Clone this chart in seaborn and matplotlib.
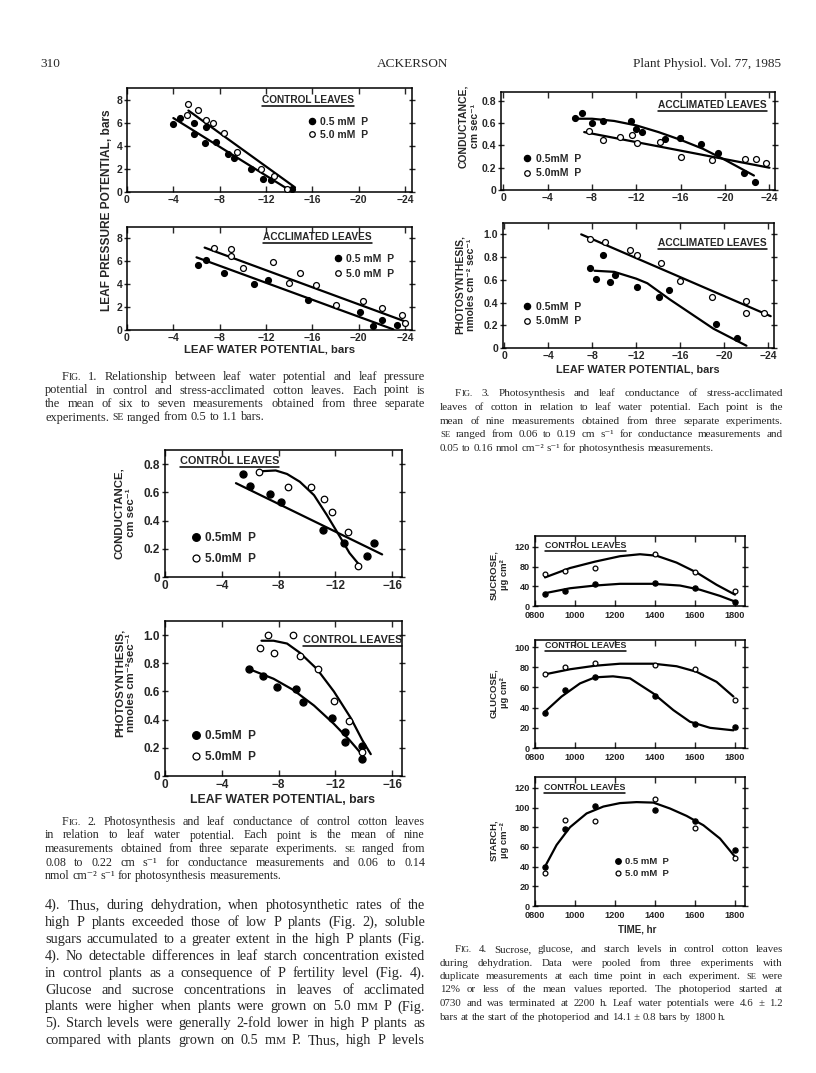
import matplotlib
matplotlib.use("Agg")
import matplotlib.pyplot as plt
from matplotlib.lines import Line2D
import pandas as pd
import seaborn as sns

W, H = 816, 1073
SANS = ["Liberation Sans", "DejaVu Sans"]
SERIF = ["Liberation Serif", "DejaVu Serif"]

# ---- Fig. 1: leaf pressure potential vs leaf water potential ----
f1c_lo_x = [-4.0, -4.6, -5.8, -5.8, -6.7, -6.8, -7.7, -8.7, -9.2, -10.7, -11.7, -12.4, -14.2]
f1c_lo_y = [5.9, 6.4, 6.0, 5.05, 4.2, 5.65, 4.35, 3.25, 2.9, 2.0, 1.15, 1.05, 0.3]
f1c_hi_x = [-5.3, -5.2, -6.1, -6.8, -7.4, -8.4, -9.5, -11.6, -12.7, -13.8]
f1c_hi_y = [7.65, 6.7, 7.1, 6.25, 6.0, 5.1, 3.5, 2.0, 1.4, 0.3]
f1c_lo_fit_x = [-4.0, -14.2]
f1c_lo_fit_y = [6.4, 0.05]
f1c_hi_fit_x = [-5.3, -14.5]
f1c_hi_fit_y = [7.05, 0.4]

f1a_lo_x = [-6.1, -6.8, -8.4, -11.0, -12.2, -15.6, -20.1, -21.2, -22.0, -23.3]
f1a_lo_y = [5.7, 6.1, 5.0, 4.0, 4.4, 2.6, 1.6, 0.35, 0.85, 0.4]
f1a_hi_x = [-7.5, -9.0, -9.0, -10.0, -12.6, -14.9, -14.0, -16.3, -18.0, -20.4, -22.0, -23.7, -24.0]
f1a_hi_y = [7.2, 7.05, 6.45, 5.4, 5.95, 4.95, 4.1, 3.9, 2.2, 2.55, 1.9, 1.3, 0.6]
f1a_lo_fit_x = [-6.0, -23.0]
f1a_lo_fit_y = [6.35, 0.05]
f1a_hi_fit_x = [-6.7, -24.0]
f1a_hi_fit_y = [7.2, 0.75]

# ---- Fig. 3: acclimated leaves ----
f3g_lo_x = [-6.5, -7.1, -8.0, -9.0, -11.5, -12.0, -12.5, -14.6, -15.9, -17.8, -19.4, -21.7, -22.7]
f3g_lo_y = [0.65, 0.69, 0.60, 0.62, 0.62, 0.55, 0.52, 0.46, 0.47, 0.41, 0.33, 0.15, 0.07]
f3g_hi_x = [-7.7, -9.0, -10.5, -11.6, -12.1, -14.1, -16.0, -18.8, -21.8, -22.8, -23.7]
f3g_hi_y = [0.53, 0.45, 0.48, 0.49, 0.42, 0.43, 0.30, 0.27, 0.28, 0.28, 0.24]
f3g_lo_fit_x = [-6.5, -8.0, -10.0, -12.0, -14.0, -16.0, -18.0, -20.0, -22.6]
f3g_lo_fit_y = [0.64, 0.64, 0.62, 0.58, 0.52, 0.45, 0.37, 0.27, 0.13]
f3g_hi_fit_x = [-7.3, -24.0]
f3g_hi_fit_y = [0.52, 0.20]

f3p_lo_x = [-7.8, -8.3, -9.0, -9.6, -10.1, -12.1, -14.1, -15.0, -19.2, -21.1]
f3p_lo_y = [0.70, 0.61, 0.82, 0.58, 0.64, 0.54, 0.45, 0.51, 0.21, 0.09]
f3p_hi_x = [-7.8, -9.2, -11.4, -12.1, -14.2, -16.0, -18.9, -22.0, -22.0, -23.6]
f3p_hi_y = [0.96, 0.93, 0.86, 0.82, 0.75, 0.59, 0.45, 0.41, 0.31, 0.31]
f3p_lo_fit_x = [-8.2, -10.0, -12.0, -13.0, -14.0, -15.0, -17.0, -19.0, -22.0]
f3p_lo_fit_y = [0.68, 0.67, 0.61, 0.57, 0.50, 0.43, 0.30, 0.17, 0.02]
f3p_hi_fit_x = [-7.0, -24.2]
f3p_hi_fit_y = [1.0, 0.28]

# ---- Fig. 2: control leaves ----
f2g_lo_x = [-5.5, -6.0, -7.4, -8.2, -11.1, -12.6, -14.2, -14.75]
f2g_lo_y = [0.73, 0.645, 0.585, 0.53, 0.33, 0.24, 0.15, 0.24]
f2g_hi_x = [-6.6, -8.7, -10.3, -11.2, -11.8, -12.9, -13.6]
f2g_hi_y = [0.745, 0.64, 0.64, 0.55, 0.46, 0.32, 0.08]
f2g_lo_fit_x = [-5.0, -15.3]
f2g_lo_fit_y = [0.665, 0.16]
f2g_hi_fit_x = [-6.85, -7.8, -8.6, -9.5, -10.5, -11.4, -12.3, -13.0, -13.7]
f2g_hi_fit_y = [0.75, 0.755, 0.73, 0.675, 0.58, 0.44, 0.29, 0.17, 0.085]

f2p_lo_x = [-5.95, -6.9, -7.9, -9.25, -9.7, -11.8, -12.7, -12.65, -13.9, -13.9]
f2p_lo_y = [0.76, 0.71, 0.635, 0.62, 0.525, 0.415, 0.315, 0.24, 0.21, 0.12]
f2p_hi_x = [-6.7, -7.25, -7.65, -9.05, -9.5, -10.8, -11.9, -13.0, -13.9]
f2p_hi_y = [0.91, 1.0, 0.87, 1.0, 0.85, 0.76, 0.53, 0.39, 0.17]
f2p_lo_fit_x = [-5.9, -7.65, -9.05, -10.5, -11.9, -13.0, -13.9]
f2p_lo_fit_y = [0.76, 0.69, 0.61, 0.50, 0.37, 0.255, 0.15]
f2p_hi_fit_x = [-6.8, -7.65, -8.6, -9.5, -10.7, -11.9, -13.1, -13.9, -14.5]
f2p_hi_fit_y = [0.96, 0.96, 0.94, 0.875, 0.76, 0.60, 0.41, 0.255, 0.155]

# ---- Fig. 4: sugars and starch over the day ----
times = [850, 950, 1100, 1400, 1600, 1800]
sucrose_lo = [24, 31, 45, 47, 36, 8]
sucrose_hi = [64, 71, 78, 106, 68, 30]
sucrose_lo_fit_t = [850, 975, 1100, 1225, 1392, 1525, 1625, 1725, 1800]
sucrose_lo_fit = [26, 36, 41.5, 45, 45, 41.5, 33, 20.5, 9]
sucrose_hi_fit_t = [850, 975, 1100, 1225, 1325, 1408, 1508, 1608, 1708, 1800]
sucrose_hi_fit = [58, 77, 90, 101, 105, 102, 88, 68, 43, 23]
glucose_lo = [35, 57, 70, 52, 24, 21]
glucose_hi = [73, 80, 84, 82, 78, 48]
glucose_lo_fit_t = [850, 933, 1025, 1100, 1190, 1275, 1392, 1492, 1575, 1675, 1792]
glucose_lo_fit = [36, 51, 64, 70, 71, 69, 54, 37.5, 26, 20, 17.5]
glucose_hi_fit_t = [850, 975, 1100, 1225, 1392, 1508, 1608, 1708, 1792]
glucose_hi_fit = [73, 78, 81.5, 83.5, 83.5, 81, 75.5, 65.5, 51]
starch_lo = [40, 78, 102, 97, 86, 57]
starch_hi = [34, 87, 86, 109, 79, 49]
starch_fit_t = [850, 908, 975, 1058, 1142, 1225, 1308, 1392, 1475, 1558, 1642, 1725, 1808]
starch_fit = [40, 62, 80, 94, 101, 104.5, 105.5, 105, 99, 91.5, 82, 68.5, 48]

FIG1_CAPTION = [
    "F{IG.} 1. Relationship between leaf water potential and leaf pressure",
    "potential in control and stress-acclimated cotton leaves. Each point is",
    "the mean of six to seven measurements obtained from three separate",
    "experiments. {SE} ranged from 0.5 to 1.1 bars.",
]
FIG2_CAPTION = [
    "F{IG.} 2. Photosynthesis and leaf conductance of control cotton leaves",
    "in relation to leaf water potential. Each point is the mean of nine",
    "measurements obtained from three separate experiments. {SE} ranged from",
    "0.08 to 0.22 cm s⁻¹ for conductance measurements and 0.06 to 0.14",
    "nmol cm⁻² s⁻¹ for photosynthesis measurements.",
]
FIG3_CAPTION = [
    "F{IG.} 3. Photosynthesis and leaf conductance of stress-acclimated",
    "leaves of cotton in relation to leaf water potential. Each point is the",
    "mean of nine measurements obtained from three separate experiments.",
    "{SE} ranged from 0.06 to 0.19 cm s⁻¹ for conductance measurements and",
    "0.05 to 0.16 nmol cm⁻² s⁻¹ for photosynthesis measurements.",
]
FIG4_CAPTION = [
    "F{IG.} 4. Sucrose, glucose, and starch levels in control cotton leaves",
    "during dehydration. Data were pooled from three experiments with",
    "duplicate measurements at each time point in each experiment. {SE} were",
    "12% or less of the mean values reported. The photoperiod started at",
    "0730 and was terminated at 2200 h. Leaf water potentials were 4.6 ± 1.2",
    "bars at the start of the photoperiod and 14.1 ± 0.8 bars by 1800 h.",
]
BODY = [
    "4). Thus, during dehydration, when photosynthetic rates of the",
    "high P plants exceeded those of low P plants (Fig. 2), soluble",
    "sugars accumulated to a greater extent in the high P plants (Fig.",
    "4). No detectable differences in leaf starch concentration existed",
    "in control plants as a consequence of P fertility level (Fig. 4).",
    "Glucose and sucrose concentrations in leaves of acclimated",
    "plants were higher when plants were grown on 5.0 m{M} P (Fig.",
    "5). Starch levels were generally 2-fold lower in high P plants as",
    "compared with plants grown on 0.5 m{M} P. Thus, high P levels",
]

sns.set_theme(style="ticks")
plt.rcParams["font.family"] = SANS
plt.rcParams["axes.linewidth"] = 1.1

fig = plt.figure(figsize=(W / 100, H / 100), dpi=100, facecolor="white")
renderer = fig.canvas.get_renderer()


def fx(x):
    return x / W


def fy(y):
    return 1 - y / H


def panel(l, t, r, b):
    return fig.add_axes([l / W, 1 - b / H, (r - l) / W, (b - t) / H])


def points(ax, xs, ys, filled, size=18):
    df = pd.DataFrame({"x": xs, "y": ys})
    sns.scatterplot(data=df, x="x", y="y", ax=ax, s=size, color="black" if filled else "white",
                    edgecolor="black", linewidth=0.9, zorder=3, legend=False)


def curve(ax, xs, ys):
    df = pd.DataFrame({"x": xs, "y": ys})
    sns.lineplot(data=df, x="x", y="y", ax=ax, sort=False, estimator=None, color="black",
                 linewidth=1.6, legend=False)


def style(ax, xlim, ylim, xticks, xlabels, yticks, ylabels, fs=7.5, xpad=2):
    ax.set_xlim(*xlim)
    ax.set_ylim(*ylim)
    ax.set_xticks(xticks)
    ax.set_xticklabels(xlabels)
    ax.set_yticks(yticks)
    ax.set_yticklabels(ylabels)
    ax.set_xlabel("")
    ax.set_ylabel("")
    ax.tick_params(axis="x", direction="in", top=True, length=4, width=1.0, labelsize=fs, pad=xpad)
    ax.tick_params(axis="y", direction="inout", right=True, length=5, width=1.0, labelsize=fs, pad=1)
    for lab in ax.get_xticklabels() + ax.get_yticklabels():
        lab.set_fontweight("bold")
    for sp in ax.spines.values():
        sp.set_color("black")
        sp.set_linewidth(1.1)


def tag(x, cy, ul, s, size=7.3):
    t = fig.text(fx(x), fy(cy), s, fontsize=size, weight="bold", va="center", ha="left")
    bb = t.get_window_extent(renderer)
    fig.add_artist(Line2D([fx(x), fx(x + bb.width)], [fy(ul), fy(ul)], color="black", lw=1.1))


def legend(ax, x, y, labels, size=7.5, spacing=0.35, ms=4.5):
    handles = [Line2D([], [], ls="", marker="o", ms=ms, mfc="black", mec="black", mew=0.9),
               Line2D([], [], ls="", marker="o", ms=ms - 0.5, mfc="white", mec="black", mew=0.9)]
    ax.legend(handles, labels, loc="upper left", bbox_to_anchor=(fx(x), fy(y)),
              bbox_transform=fig.transFigure, frameon=False, borderpad=0, borderaxespad=0,
              handlelength=0.8, handletextpad=0.4, labelspacing=spacing,
              prop={"weight": "bold", "size": size, "family": SANS})


def ylab(x, y, s, size=7.5):
    fig.text(fx(x), fy(y), s, rotation=90, ha="center", va="center", multialignment="center",
             fontsize=size, weight="bold", linespacing=1.15)


def xlab(x, y, s, size=7.8):
    fig.text(fx(x), fy(y), s, ha="center", va="center", fontsize=size, weight="bold")


def measure(s, size):
    t = fig.text(0, 0, s, fontsize=size, family=SERIF)
    w = t.get_window_extent(renderer).width
    t.remove()
    return w


def parts(word):
    out, buf, small = [], "", False
    for ch in word:
        if ch in "{}":
            if buf:
                out.append((buf, small))
            buf, small = "", ch == "{"
        else:
            buf += ch
    if buf:
        out.append((buf, small))
    return out


def word_width(w, size):
    return sum(measure(p, size * (0.78 if sm else 1)) for p, sm in parts(w))


def text_line(line, x0, x1, y, size, justify=True):
    words = line.split(" ")
    widths = [word_width(w, size) for w in words]
    space = measure("a a", size) - measure("aa", size)
    gap = (x1 - x0 - sum(widths)) / (len(words) - 1) if justify and len(words) > 1 else space
    x = x0
    for w, wd in zip(words, widths):
        xx = x
        for p, sm in parts(w):
            s = size * (0.78 if sm else 1)
            fig.text(fx(xx), fy(y), p, fontsize=s, family=SERIF, va="baseline", ha="left")
            xx += measure(p, s)
        x += wd + gap


def text_block(lines, x0, x1, y0, step, base=9.0, indent=0, last_justified=False, loose=0.93):
    # font size chosen from the tightest justified line, then loosened a little
    space = measure("a a", base) - measure("aa", base)
    n = len(lines) if last_justified else len(lines) - 1
    ratios = []
    for i, line in enumerate(lines[:n]):
        words = line.split(" ")
        natural = sum(word_width(w, base) for w in words) + space * (len(words) - 1)
        ratios.append((x1 - x0 - (indent if i == 0 else 0)) / natural)
    size = base * min(ratios) * loose
    for i, line in enumerate(lines):
        last = i == len(lines) - 1
        text_line(line, x0 + (indent if i == 0 else 0), x1, y0 + i * step, size,
                  justify=(not last) or last_justified)


# ---- Fig. 1 ----
bars_ticks = [0, -4, -8, -12, -16, -20, -24]
bars_labels = ["0", "−4", "−8", "−12", "−16", "−20", "−24"]
ax = panel(127, 88, 412, 192)
points(ax, f1c_lo_x, f1c_lo_y, True)
points(ax, f1c_hi_x, f1c_hi_y, False)
curve(ax, f1c_lo_fit_x, f1c_lo_fit_y)
curve(ax, f1c_hi_fit_x, f1c_hi_fit_y)
style(ax, (0, -24.6), (0, 9), bars_ticks, bars_labels, [0, 2, 4, 6, 8], ["0", "2", "4", "6", "8"])
legend(ax, 307.5, 117, ["0.5 mM  P", "5.0 mM  P"], spacing=0.3)
tag(262, 100, 105.5, "CONTROL LEAVES")

ax = panel(127, 227, 412, 330)
points(ax, f1a_lo_x, f1a_lo_y, True)
points(ax, f1a_hi_x, f1a_hi_y, False)
curve(ax, f1a_lo_fit_x, f1a_lo_fit_y)
curve(ax, f1a_hi_fit_x, f1a_hi_fit_y)
style(ax, (0, -24.6), (0, 9), bars_ticks, bars_labels, [0, 2, 4, 6, 8], ["0", "2", "4", "6", "8"])
legend(ax, 334, 254, ["0.5 mM  P", "5.0 mM  P"], spacing=0.45)
tag(263, 237, 243, "ACCLIMATED LEAVES")
ylab(107, 210, "LEAF PRESSURE POTENTIAL, bars", size=8.6)
xlab(270, 350, "LEAF WATER POTENTIAL, bars", size=8.2)

# ---- Fig. 3 ----
ax = panel(501, 92, 775, 190)
points(ax, f3g_lo_x, f3g_lo_y, True)
points(ax, f3g_hi_x, f3g_hi_y, False)
curve(ax, f3g_lo_fit_x, f3g_lo_fit_y)
curve(ax, f3g_hi_fit_x, f3g_hi_fit_y)
style(ax, (0.2, -24.5), (0, 0.88), bars_ticks, bars_labels, [0, 0.2, 0.4, 0.6, 0.8],
      ["0", "0.2", "0.4", "0.6", "0.8"])
legend(ax, 523, 154, ["0.5mM  P", "5.0mM  P"], spacing=0.4)
tag(658, 105, 110.5, "ACCLIMATED LEAVES")
ylab(469, 126, "CONDUCTANCE,\ncm sec⁻¹")

ax = panel(503, 223, 774, 348)
points(ax, f3p_lo_x, f3p_lo_y, True)
points(ax, f3p_hi_x, f3p_hi_y, False)
curve(ax, f3p_lo_fit_x, f3p_lo_fit_y)
curve(ax, f3p_hi_fit_x, f3p_hi_fit_y)
style(ax, (0.1, -24.5), (0, 1.1), bars_ticks, bars_labels, [0, 0.2, 0.4, 0.6, 0.8, 1.0],
      ["0", "0.2", "0.4", "0.6", "0.8", "1.0"])
legend(ax, 523, 301.5, ["0.5mM  P", "5.0mM  P"], spacing=0.45)
tag(658, 243, 249, "ACCLIMATED LEAVES")
ylab(465, 285, "PHOTOSYNTHESIS,\nnmoles cm⁻² sec⁻¹")
xlab(638, 370, "LEAF WATER POTENTIAL, bars")

# ---- Fig. 2 ----
ctl_ticks = [0, -4, -8, -12, -16]
ctl_labels = ["0", "−4", "−8", "−12", "−16"]
ax = panel(165, 450, 402, 577)
points(ax, f2g_lo_x, f2g_lo_y, True, size=26)
points(ax, f2g_hi_x, f2g_hi_y, False, size=22)
curve(ax, f2g_lo_fit_x, f2g_lo_fit_y)
curve(ax, f2g_hi_fit_x, f2g_hi_fit_y)
style(ax, (0, -16.7), (0, 0.9), ctl_ticks, ctl_labels, [0, 0.2, 0.4, 0.6, 0.8],
      ["0", "0.2", "0.4", "0.6", "0.8"], fs=8.5)
legend(ax, 191, 532, ["0.5mM  P", "5.0mM  P"], size=8.5, spacing=0.75, ms=5.5)
tag(180, 461, 467, "CONTROL LEAVES", size=7.8)
ylab(125, 513, "CONDUCTANCE,\ncm sec⁻¹", size=8.2)

ax = panel(165, 621, 402, 776)
points(ax, f2p_lo_x, f2p_lo_y, True, size=26)
points(ax, f2p_hi_x, f2p_hi_y, False, size=22)
curve(ax, f2p_lo_fit_x, f2p_lo_fit_y)
curve(ax, f2p_hi_fit_x, f2p_hi_fit_y)
style(ax, (0, -16.7), (0, 1.1), ctl_ticks, ctl_labels, [0, 0.2, 0.4, 0.6, 0.8, 1.0],
      ["0", "0.2", "0.4", "0.6", "0.8", "1.0"], fs=8.5)
legend(ax, 191, 730, ["0.5mM  P", "5.0mM  P"], size=8.5, spacing=0.75, ms=5.5)
tag(303, 640, 645.5, "CONTROL LEAVES", size=7.8)
ylab(125, 683, "PHOTOSYNTHESIS,\nnmoles cm⁻²sec⁻¹", size=8.2)
xlab(283, 800, "LEAF WATER POTENTIAL, bars", size=8.8)

# ---- Fig. 4 ----
hr_ticks = [800, 1000, 1200, 1400, 1600, 1800]
hr_labels = ["0800", "1000", "1200", "1400", "1600", "1800"]
ax = panel(535, 536, 745, 606)
points(ax, times, sucrose_lo, True, size=14)
points(ax, times, sucrose_hi, False, size=12)
curve(ax, sucrose_lo_fit_t, sucrose_lo_fit)
curve(ax, sucrose_hi_fit_t, sucrose_hi_fit)
style(ax, (800, 1850), (0, 142), hr_ticks, hr_labels, [0, 40, 80, 120], ["0", "40", "80", "120"],
      fs=6.6, xpad=3.5)
tag(545, 545, 550.5, "CONTROL LEAVES", size=6.4)
ylab(499, 575, "SUCROSE,\nµg cm²", size=6.8)

ax = panel(535, 640, 745, 748)
points(ax, times, glucose_lo, True, size=14)
points(ax, times, glucose_hi, False, size=12)
curve(ax, glucose_lo_fit_t, glucose_lo_fit)
curve(ax, glucose_hi_fit_t, glucose_hi_fit)
style(ax, (800, 1850), (0, 107), hr_ticks, hr_labels, [0, 20, 40, 60, 80, 100],
      ["0", "20", "40", "60", "80", "100"], fs=6.6, xpad=3.5)
tag(545, 646, 651, "CONTROL LEAVES", size=6.4)
ylab(499, 693, "GLUCOSE,\nµg cm²", size=6.8)

ax = panel(535, 777, 745, 906)
points(ax, times, starch_lo, True, size=14)
points(ax, times, starch_hi, False, size=12)
curve(ax, starch_fit_t, starch_fit)
style(ax, (800, 1850), (0, 131), hr_ticks, hr_labels, [0, 20, 40, 60, 80, 100, 120],
      ["0", "20", "40", "60", "80", "100", "120"], fs=6.6, xpad=3.5)
legend(ax, 614, 857, ["0.5 mM  P", "5.0 mM  P"], size=6.8, spacing=0.35, ms=4)
tag(544, 787, 793, "CONTROL LEAVES", size=6.4)
ylab(499, 840, "STARCH,\nµg cm⁻²", size=6.8)
xlab(637, 929, "TIME, hr", size=7)

# ---- page text ----
fig.text(fx(40), fy(67), "310", fontsize=9.5, family=SERIF, va="baseline")
fig.text(fx(413), fy(67), "ACKERSON", fontsize=9.5, family=SERIF, va="baseline", ha="center")
fig.text(fx(781), fy(67), "Plant Physiol. Vol. 77, 1985", fontsize=9.5, family=SERIF,
         va="baseline", ha="right")

text_block(FIG1_CAPTION, 45, 425, 380, 13.5, indent=17, loose=0.9)
text_block(FIG3_CAPTION, 440, 783, 396, 13.8, indent=15, loose=0.92)
text_block(FIG2_CAPTION, 45, 425, 825, 13.5, indent=17, loose=0.92)
text_block(FIG4_CAPTION, 440, 783, 952, 13.5, indent=15, loose=0.92)
text_block(BODY, 45, 425, 909, 16.9, last_justified=True, loose=0.97)

fig.savefig("out.png", dpi=100, facecolor="white")
